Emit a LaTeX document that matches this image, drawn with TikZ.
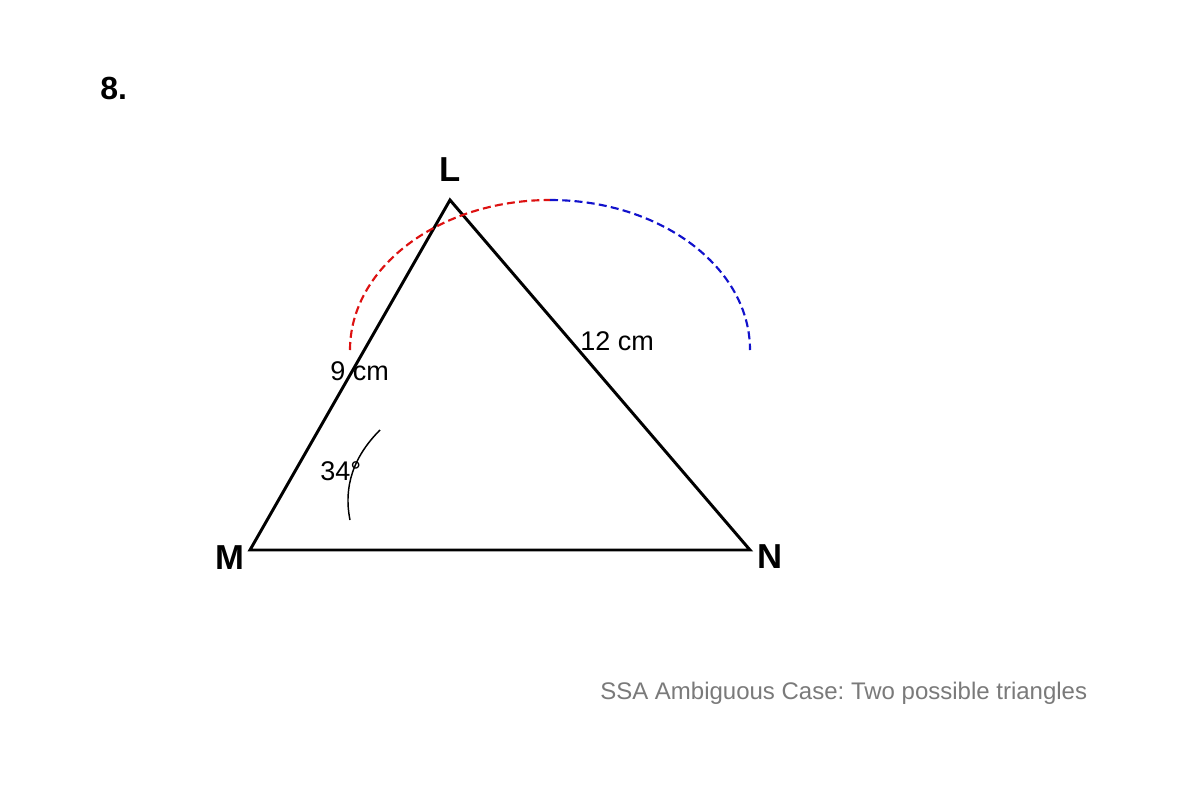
\documentclass[tikz,border=0pt]{standalone}
\usepackage{fontspec}
\setmainfont{Liberation Sans}
\frenchspacing
\definecolor{arcred}{HTML}{DD1111}
\definecolor{arcblue}{HTML}{1111CC}
\definecolor{capgray}{HTML}{7A7A7A}
\begin{document}
\begin{tikzpicture}[x=0.75pt,y=-0.75pt,
  side/.style={line width=2.2pt,line join=miter},
  swing/.style={line width=1.6pt,dash pattern=on 6pt off 3.2pt},
  anglemark/.style={line width=1.1pt},
  vlabel/.style={font=\fontsize{26}{30}\selectfont\bfseries,inner sep=0pt,anchor=base},
  mlabel/.style={font=\fontsize{20.25}{24}\selectfont,inner sep=0pt,anchor=base west}]
\useasboundingbox (0,0) rectangle (1200,800);
\fill[white] (0,0) rectangle (1200,800);
\coordinate (M) at (250,550);
\coordinate (L) at (450,200);
\coordinate (N) at (750,550);
\coordinate (RS) at (350,350);
\coordinate (TOP) at (550,200);
\coordinate (BE) at (750,350);
\coordinate (AS) at (350,520);
\coordinate (AE) at (380,430);
\draw[side] (M) -- (L) -- (N) -- cycle;
\draw[swing,arcred] (RS) .. controls (350,267.2) and (439.5,200) .. (TOP);
\draw[swing,arcblue] (TOP) .. controls (660.5,200) and (750,267.2) .. (BE);
\draw[anglemark] (AS) .. controls (343.3,486.7) and (353.3,456.7) .. (AE);
\node[vlabel] (lL) at (450,181) {L};
\node[vlabel] (lM) at (230,569) {M};
\node[vlabel] (lN) at (770,568) {N};
\node[font=\fontsize{24}{28}\selectfont\bfseries,inner sep=0pt,anchor=base west] (num) at (100,99) {8.};
\node[mlabel] (s9) at (330,380) {9 cm};
\node[mlabel] (s12) at (580,350) {12 cm};
\node[mlabel] (ang) at (320,480) {34°};
\node[font=\fontsize{18}{22}\selectfont,text=capgray,inner sep=0pt,anchor=base west] (cap) at (600,699) {SSA Ambiguous Case: Two possible triangles};
\end{tikzpicture}
\end{document}
